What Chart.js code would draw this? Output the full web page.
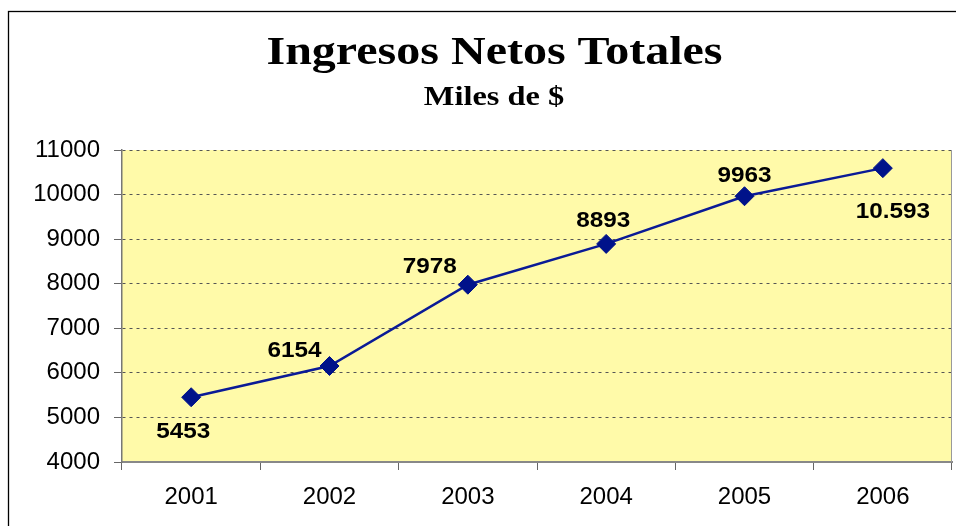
<!DOCTYPE html>
<html>
<head>
<meta charset="utf-8">
<script src="https://cdn.jsdelivr.net/npm/chart.js@4/dist/chart.umd.min.js"></script>
<style>
  html, body { margin: 0; padding: 0; background: #fff; overflow: hidden; }
  canvas { display: block; }
</style>
</head>
<body>
<canvas id="c" width="956" height="526"></canvas>
<script>
// ---- data ----
const years = ['2001', '2002', '2003', '2004', '2005', '2006'];
const ingresos = [5453, 6154, 7978, 8893, 9963, 10593];
const pointLabels = ['5453', '6154', '7978', '8893', '9963', '10.593'];
const yTicks = [4000, 5000, 6000, 7000, 8000, 9000, 10000, 11000];
const titleText = 'Ingresos Netos Totales';
const subtitleText = 'Miles de $';

// label placement relative to each point (dx, dy to text baseline centre)
const labelOffsets = [[-8, 41], [-35, -9], [-38, -12], [-3, -17], [0, -14], [10, 50]];

const frame = {
  id: 'frame',
  beforeDraw(chart) {
    const ctx = chart.ctx, a = chart.chartArea;
    ctx.save();
    ctx.fillStyle = '#ffffff';
    ctx.fillRect(0, 0, chart.width, chart.height);
    ctx.strokeStyle = '#000000';
    ctx.lineWidth = 1.3;
    ctx.strokeRect(8.5, 11.5, 1200, 1200);
    ctx.fillStyle = '#FFFAA9';
    ctx.fillRect(a.left, a.top, a.right - a.left, a.bottom - a.top);
    ctx.restore();
  },
  afterDraw(chart) {
    const ctx = chart.ctx, a = chart.chartArea;
    ctx.save();
    ctx.strokeStyle = '#9a9a9a';
    ctx.lineWidth = 1;
    ctx.beginPath();
    ctx.moveTo(a.right - 0.5, a.top);
    ctx.lineTo(a.right - 0.5, a.bottom);
    ctx.stroke();
    // titles
    ctx.fillStyle = '#000';
    ctx.textAlign = 'center';
    ctx.textBaseline = 'alphabetic';
    const drawStretched = (txt, x, y, font, sx) => {
      ctx.save();
      ctx.translate(x, y);
      ctx.scale(sx, 1);
      ctx.font = font;
      ctx.fillText(txt, 0, 0);
      ctx.restore();
    };
    drawStretched(titleText, 494.5, 64, 'bold 40px "Liberation Serif", "Times New Roman", serif', 1.2);
    drawStretched(subtitleText, 494, 105, 'bold 27px "Liberation Serif", "Times New Roman", serif', 1.2);
    // point labels
    const meta = chart.getDatasetMeta(0);
    meta.data.forEach((pt, i) => {
      const [dx, dy] = labelOffsets[i];
      drawStretched(pointLabels[i], pt.x + dx, pt.y + dy, 'bold 22.5px "Liberation Sans", Arial, sans-serif', 1.08);
    });
    ctx.restore();
  }
};

new Chart(document.getElementById('c'), {
  type: 'line',
  data: {
    labels: years,
    datasets: [{
      data: ingresos,
      borderColor: '#0A1A96',
      borderWidth: 2.5,
      pointStyle: 'rectRot',
      pointRadius: 9.5,
      pointHoverRadius: 9.5,
      pointBackgroundColor: '#00128A',
      pointBorderColor: '#00128A',
      pointBorderWidth: 1,
      tension: 0,
      fill: false,
      clip: 20
    }]
  },
  options: {
    responsive: false,
    animation: false,
    events: [],
    layout: { autoPadding: false, padding: { top: 150, right: 4, left: 0, bottom: 0 } },
    plugins: {
      legend: { display: false },
      title: { display: false },
      tooltip: { enabled: false }
    },
    scales: {
      x: {
        offset: true,
        afterFit(scale) { scale.height = 64; scale.paddingLeft = 0; scale.paddingRight = 0; },
        grid: {
          offset: true,
          drawOnChartArea: false,
          drawTicks: true,
          tickLength: 8,
          tickColor: '#666',
          tickWidth: 1
        },
        border: { display: true, color: '#888', width: 2 },
        ticks: {
          color: '#000',
          padding: 13,
          maxRotation: 0,
          font: { family: '"Liberation Sans", Arial, sans-serif', size: 24 }
        }
      },
      y: {
        min: 4000,
        max: 11000,
        afterFit(scale) { scale.width = 122; scale.paddingTop = 0; scale.paddingBottom = 0; },
        afterBuildTicks(scale) { scale.ticks = yTicks.map(v => ({ value: v })); },
        grid: {
          drawOnChartArea: true,
          drawTicks: true,
          tickLength: 8,
          color: (c) => (c.tick && c.tick.value === 4000) ? 'rgba(0,0,0,0)' : '#555',
          lineWidth: 1,
          tickColor: '#666',
          tickBorderDash: [],
          tickWidth: 1
        },
        border: { display: true, color: '#777', width: 1.5, dash: [3, 4] },
        ticks: {
          color: '#000',
          padding: 14,
          callback: (v) => String(v),
          font: { family: '"Liberation Sans", Arial, sans-serif', size: 24 }
        }
      }
    }
  },
  plugins: [frame]
});
</script>
</body>
</html>
